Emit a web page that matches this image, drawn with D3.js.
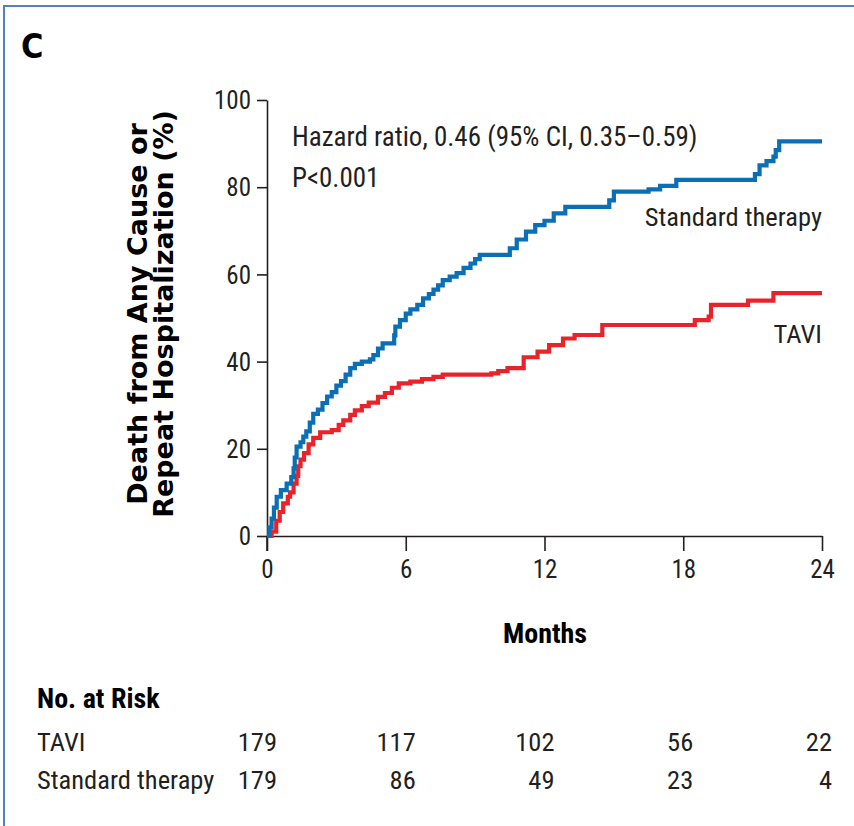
<!DOCTYPE html>
<html><head><meta charset="utf-8">
<script src="https://cdn.jsdelivr.net/npm/d3@7"></script>
<style>
html,body{margin:0;padding:0;background:#fff;}
svg{display:block;}
.nar{font-family:"Liberation Sans Narrow","Roboto Condensed","DejaVu Sans Condensed","Liberation Sans",sans-serif;}
</style></head>
<body>
<svg id="chart" width="854" height="826"></svg>
<script>
// ---- data ----
const panelLabel = "C";
const yTitle = ["Death from Any Cause or", "Repeat Hospitalization (%)"];
const xTitle = "Months";
const xTicks = [0, 6, 12, 18, 24];
const yTicks = [0, 20, 40, 60, 80, 100];
const annotation = ["Hazard ratio, 0.46 (95% CI, 0.35\u20130.59)", "P<0.001"];
const groups = ["TAVI", "Standard therapy"];

// TAVI (red) step curve
const tTavi = [0,0.2,0.4,0.55,0.7,0.9,1.0,1.15,1.28,1.35,1.45,1.6,1.8,2.0,2.3,2.8,3.1,3.3,3.6,3.8,4.1,4.4,4.8,5.1,5.4,5.7,6.2,6.7,7.2,7.6,9.7,10.0,10.4,11.1,11.7,12.2,12.8,13.3,14.5,18.5,19.1,19.2,20.8,21.9,24];
const vTavi = [0,1,3.5,5.5,7.5,9,10,12,13.8,16,17.5,19,21,22.5,23.8,24.3,25.5,26.5,27.8,28.8,29.8,30.6,31.9,32.8,34,35,35.4,36,36.5,37,37.3,37.8,38.5,41,42.3,43.8,45.3,46.1,48.4,49.5,50.3,53,54,55.7,55.7];

// Standard therapy (blue) step curve
const tStd = [0,0.1,0.2,0.3,0.42,0.6,0.85,1.05,1.15,1.2,1.28,1.45,1.57,1.7,1.85,2.0,2.2,2.4,2.6,2.8,3.0,3.2,3.4,3.6,3.8,4.1,4.45,4.6,4.8,5.0,5.5,5.55,5.75,6.0,6.2,6.5,6.75,7.0,7.2,7.4,7.6,7.9,8.2,8.5,8.8,9.0,9.2,10.5,10.8,11.2,11.6,12.0,12.4,12.9,14.8,15.0,16.5,17.0,17.7,21.1,21.3,21.6,21.9,22.0,22.15,24];
const vStd = [0,2,4,6.5,9,10.5,12,13.5,15.5,18,20.5,21.5,22.8,24,26,28,29,30.5,32,33,34.5,35.5,37,38.5,39.5,40,40.5,41.5,43,44.2,46,48,49.5,51,52,53,54.5,55.5,56.5,57.5,58.7,59.5,60.3,61.5,62.5,63.5,64.5,66,68,69.8,71.3,72.3,74,75.5,77,79,79.5,80.3,81.7,83,85,86,87,88.5,90.5,90.5];

// number at risk
const riskTavi = [179, 117, 102, 56, 22];
const riskStd = [179, 86, 49, 23, 4];

// ---- drawing ----
const svg = d3.select("#chart");
const ink = "#231f20";
const blue = "#0a6fb5";
const red = "#e8232a";

// frame
svg.append("rect").attr("x", 4).attr("y", 6).attr("width", 900).attr("height", 900)
  .attr("fill", "none").attr("stroke", "#4f81c4").attr("stroke-width", 2);

const x = d3.scaleLinear().domain([0, 24]).range([267, 822]);
const y = d3.scaleLinear().domain([0, 100]).range([536, 100]);

svg.append("text").attr("x", 21).attr("y", 58).text(panelLabel)
  .attr("font-family", "DejaVu Sans Condensed, DejaVu Sans, sans-serif")
  .attr("font-weight", "bold").attr("font-size", 34).attr("fill", "#000");

// axes
const yAxis = d3.axisLeft(y).tickValues(yTicks).tickSize(10).tickSizeOuter(0).tickPadding(6);
const xAxis = d3.axisBottom(x).tickValues(xTicks).tickSize(15).tickSizeOuter(0).tickPadding(9);

const gy = svg.append("g").attr("transform", `translate(${x(0)},0)`).call(yAxis);
const gx = svg.append("g").attr("transform", `translate(0,${y(0)})`).call(xAxis);
[gx, gy].forEach(g => {
  g.selectAll("path,line").attr("stroke", ink).attr("stroke-width", 1.6);
  g.selectAll("text").attr("class", "nar").attr("font-size", 25).attr("fill", ink);
});
gy.selectAll("text").attr("dy", "0.35em");
// extend y axis line to bottom of x tick
svg.append("line").attr("x1", x(0)).attr("x2", x(0)).attr("y1", y(0)).attr("y2", y(0) + 15)
  .attr("stroke", ink).attr("stroke-width", 1.6);

// y title
const yt = svg.append("g").attr("transform", "translate(0,314) rotate(-90)");
yt.selectAll("text").data(yTitle).join("text")
  .attr("x", 0).attr("y", (d, i) => 147 + i * 26)
  .attr("text-anchor", "middle")
  .attr("font-family", "DejaVu Sans, sans-serif").attr("font-weight", "bold")
  .attr("font-size", 27).attr("fill", "#000")
  .text(d => d);

// x title
svg.append("text").attr("class", "nar").attr("x", 545).attr("y", 643)
  .attr("text-anchor", "middle").attr("font-weight", "bold").attr("font-size", 28)
  .attr("fill", "#000").text(xTitle);

// curves
const line = d3.line().curve(d3.curveStepAfter).x(d => x(d[0])).y(d => y(d[1]));
const tavi = tTavi.map((t, i) => [t, vTavi[i]]);
const std = tStd.map((t, i) => [t, vStd[i]]);
svg.append("path").datum(tavi).attr("d", line).attr("fill", "none")
  .attr("stroke", red).attr("stroke-width", 4.2).attr("stroke-linejoin", "miter");
svg.append("path").datum(std).attr("d", line).attr("fill", "none")
  .attr("stroke", blue).attr("stroke-width", 4.2).attr("stroke-linejoin", "miter");

// annotations
svg.selectAll("text.ann").data(annotation).join("text").attr("class", "ann nar")
  .attr("x", 292).attr("y", (d, i) => 146 + i * 41)
  .attr("font-size", 27).attr("fill", ink).text(d => d);

svg.append("text").attr("class", "nar").attr("x", 822).attr("y", 226).attr("text-anchor", "end")
  .attr("font-size", 26.5).attr("fill", ink).text(groups[1]);
svg.append("text").attr("class", "nar").attr("x", 822).attr("y", 343).attr("text-anchor", "end")
  .attr("font-size", 26.5).attr("fill", ink).text(groups[0]);

// number at risk table
svg.append("text").attr("class", "nar").attr("x", 37).attr("y", 708)
  .attr("font-weight", "bold").attr("font-size", 28).attr("fill", "#000").text("No. at Risk");
const rows = [[groups[0], riskTavi], [groups[1], riskStd]];
rows.forEach((r, ri) => {
  const yy = 751 + ri * 38;
  svg.append("text").attr("class", "nar").attr("x", 37).attr("y", yy)
    .attr("font-size", 26.5).attr("fill", ink).text(r[0]);
  svg.selectAll(null).data(r[1]).join("text").attr("class", "nar")
    .attr("x", (d, i) => x(xTicks[i]) + 10).attr("y", yy).attr("text-anchor", "end")
    .attr("font-size", 26.5).attr("fill", ink).text(d => d);
});
</script>
</body></html>
